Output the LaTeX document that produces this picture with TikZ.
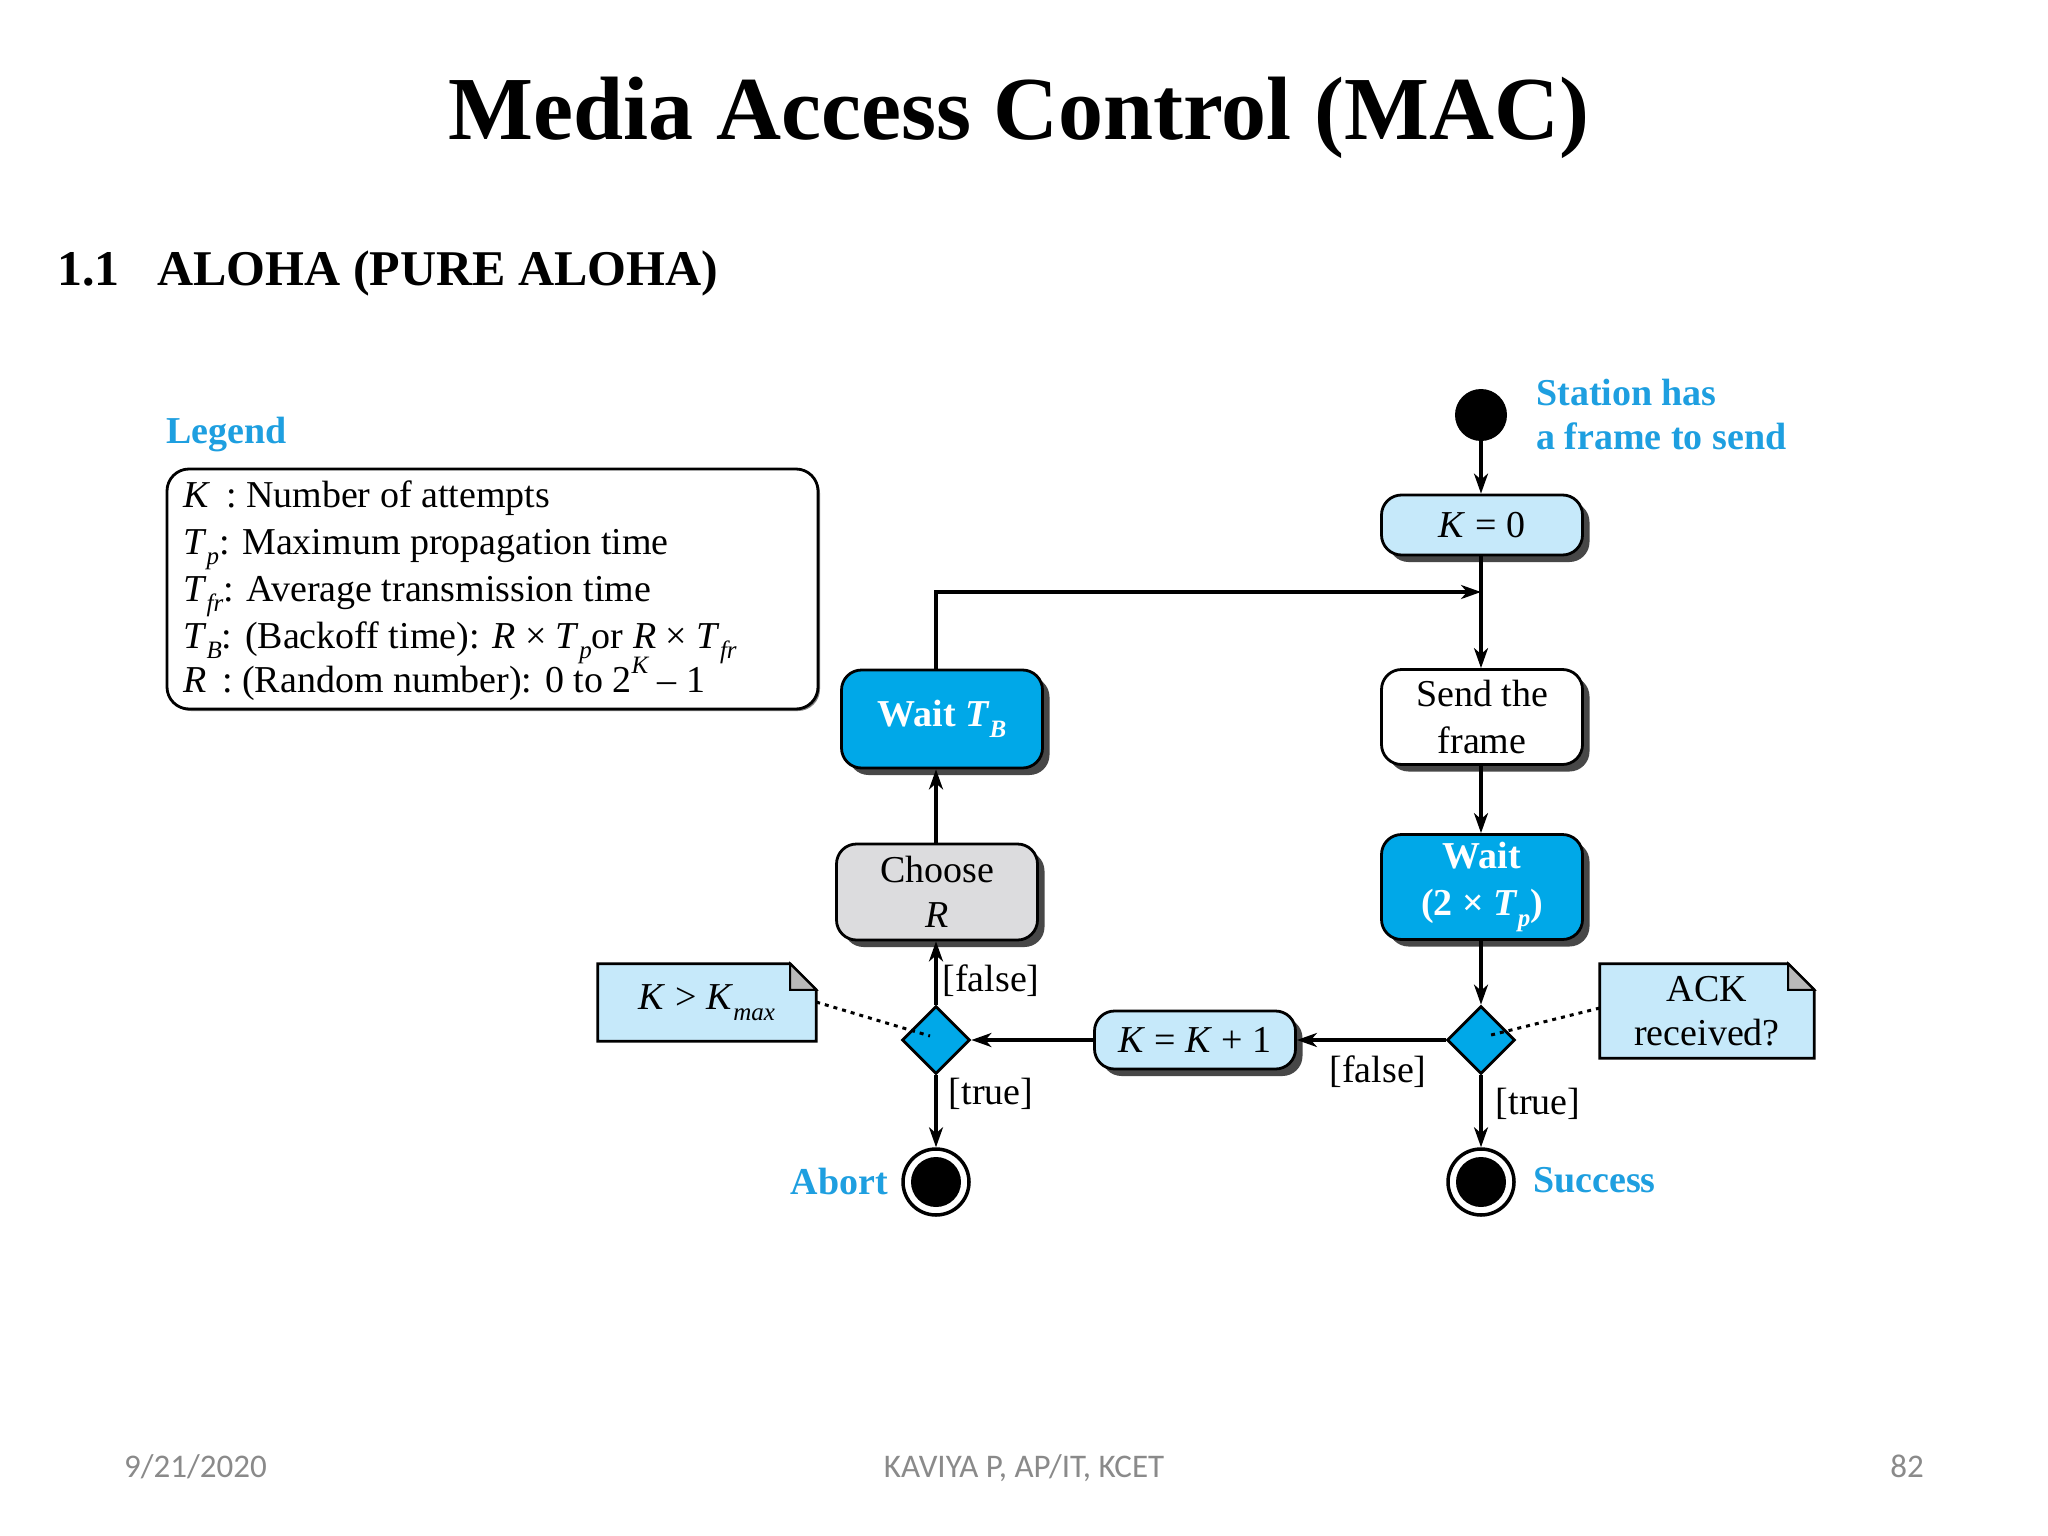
\documentclass[tikz,border=0pt]{standalone}
\usepackage{fontspec}
\setmainfont{Liberation Serif}
\newfontfamily\footfont{Carlito}
\usetikzlibrary{shapes.geometric,shadows,arrows.meta,backgrounds}
\definecolor{cyanbox}{HTML}{00A8E8}
\definecolor{lightbox}{HTML}{C6E9FA}
\definecolor{graybox}{HTML}{DCDCDE}
\definecolor{labelblue}{HTML}{1E9FE0}
\definecolor{footgray}{HTML}{8A8A8A}
\newcommand\dtext{\fontsize{38}{46}\selectfont}
\newcommand\mv[1]{\textit{#1}}
\newcommand\Lsub[1]{\raisebox{-0.28em}{\fontsize{25}{25}\selectfont\itshape #1}}
\newcommand\Lsup[1]{\raisebox{0.5em}{\fontsize{25}{25}\selectfont\itshape #1}}
\tikzset{
  box/.style={rectangle, rounded corners=20pt, draw=black, line width=2.8pt,
    minimum width=201pt, inner sep=0pt, align=center, font=\dtext,
    drop shadow={shadow xshift=7pt, shadow yshift=-7pt, fill=black!72, opacity=1}},
  lbox/.style={box, fill=lightbox},
  cbox/.style={box, fill=cyanbox, text=white, font=\dtext\bfseries},
  gbox/.style={box, fill=graybox},
  wbox/.style={box, fill=white},
  dec/.style={diamond, aspect=1, draw=black, line width=2.8pt, fill=cyanbox,
    minimum width=68pt, minimum height=68pt, inner sep=0pt},
  arr/.style={line width=3.2pt, -{Stealth[length=20pt, width=14pt, inset=6pt]}},
  dotline/.style={line width=3pt, dash pattern=on 4pt off 5pt},
  lbl/.style={font=\dtext, inner sep=0pt},
  bluelbl/.style={font=\dtext\bfseries, text=labelblue, inner sep=0pt},
  legtxt/.style={font=\dtext, inner sep=0pt, anchor=base west},
  notetxt/.style={font=\dtext, inner sep=0pt, align=center},
  foot/.style={font=\footfont\fontsize{33}{36}\selectfont, text=footgray, inner sep=0pt}
}
\begin{document}
\begin{tikzpicture}[x=1pt,y=-1pt]
\useasboundingbox (0,0) rectangle (2048,1536);
\begin{pgfonlayer}{background}
\fill[white] (0,0) rectangle (2048,1536);
\end{pgfonlayer}

% titles
\node[anchor=base, inner sep=0pt, font=\fontsize{90}{100}\selectfont\bfseries] (title) at (1019,140) {Media Access Control (MAC)};
\node[anchor=base west, inner sep=0pt, font=\fontsize{50}{56}\selectfont\bfseries] (secnum) at (57,285) {1.1};
\node[anchor=base west, inner sep=0pt, font=\fontsize{50}{56}\selectfont\bfseries] (sectitle) at (157,285) {ALOHA (PURE ALOHA)};

% legend
\node[bluelbl, anchor=base west] (legendlbl) at (166,443) {Legend};
\node[rectangle, rounded corners=22pt, draw=black, line width=2.8pt, minimum width=651pt, minimum height=240pt, inner sep=0pt,
  drop shadow={shadow xshift=2pt, shadow yshift=-2pt, fill=black!50, opacity=1}, fill=white] (legend) at (492.5,589) {};
\node[legtxt] (l1) at (183,507) {\mv{K} \,: Number of attempts};
\node[legtxt] (l2) at (183,554) {\mv{T}\Lsub{p}: Maximum propagation time};
\node[legtxt] (l3) at (183,601) {\mv{T}\Lsub{fr}: Average transmission time};
\node[legtxt] (l4) at (183,648) {\mv{T}\Lsub{B}: (Backoff time): \mv{R} × \mv{T}\Lsub{p}or \mv{R} × \mv{T}\Lsub{fr}};
\node[legtxt] (l5) at (183,692) {\mv{R} \,: (Random number): 0 to 2\Lsup{K} – 1};

% right column
\node[circle, fill=black, minimum size=52pt, inner sep=0pt] (start) at (1481,415) {};
\node[bluelbl, anchor=base west] (st1) at (1536,405) {Station has};
\node[bluelbl, anchor=base west] (st2) at (1536,449) {a frame to send};
\node[lbox, minimum height=60pt] (k0) at (1482,525) {\mv{K} = 0};
\coordinate (junc) at (1481,592);
\node[wbox, minimum height=95pt, font=\fontsize{38}{47}\selectfont] (send) at (1482,717) {Send the\\frame};
\node[cbox, minimum height=105pt, font=\fontsize{38}{47}\selectfont\bfseries] (wait2) at (1482,887) {Wait\\(2 × \mv{T}\Lsub{p})};
\node[dec] (dr) at (1481,1040) {};
\node[circle, draw=black, line width=3.5pt, minimum size=66pt, inner sep=0pt] (succ) at (1481,1182) {};
\fill[black] (succ.center) circle (25);
\node[bluelbl, anchor=base west] (succlbl) at (1533,1192) {Success};
\node[lbl] (trueR) at (1538,1104) {[true]};
\node[lbl] (falseR) at (1378,1072) {[false]};

% middle
\node[lbox, minimum height=58pt] (kk) at (1195,1040) {\mv{K} = \mv{K} + 1};

% left column
\node[cbox, minimum height=98pt] (waitb) at (942,719) {Wait \mv{T}\Lsub{B}};
\node[gbox, minimum height=96pt, font=\fontsize{38}{45}\selectfont] (choose) at (937,892) {Choose\\\mv{R}};
\node[dec] (dl) at (936,1040) {};
\node[circle, draw=black, line width=3.5pt, minimum size=66pt, inner sep=0pt] (abort) at (936,1182) {};
\fill[black] (abort.center) circle (25);
\node[bluelbl, anchor=base east] (abortlbl) at (888,1194) {Abort};
\node[lbl] (falseL) at (991,981) {[false]};
\node[lbl] (trueL) at (991,1094) {[true]};

% notes
\node[notetxt, minimum width=218pt, minimum height=77pt] (knote) at (707,1002.5) {\mv{K} > \mv{K}\Lsub{max}};
\node[notetxt, minimum width=214pt, minimum height=94pt, font=\fontsize{38}{44}\selectfont] (anote) at (1707,1011) {ACK\\received?};
\begin{pgfonlayer}{background}
\filldraw[fill=lightbox, draw=black, line width=2.8pt, line join=miter]
  (knote.north west) -- ([xshift=-26pt]knote.north east) -- ([yshift=-26pt]knote.north east) -- (knote.south east) -- (knote.south west) -- cycle;
\filldraw[fill=gray!55, draw=black, line width=2pt]
  ([xshift=-26pt]knote.north east) -- ([xshift=-26pt,yshift=-26pt]knote.north east) -- ([yshift=-26pt]knote.north east) -- cycle;
\filldraw[fill=lightbox, draw=black, line width=2.8pt, line join=miter]
  (anote.north west) -- ([xshift=-26pt]anote.north east) -- ([yshift=-26pt]anote.north east) -- (anote.south east) -- (anote.south west) -- cycle;
\filldraw[fill=gray!55, draw=black, line width=2pt]
  ([xshift=-26pt]anote.north east) -- ([xshift=-26pt,yshift=-26pt]anote.north east) -- ([yshift=-26pt]anote.north east) -- cycle;
\end{pgfonlayer}

% connectors
\draw[arr] (start) -- (k0.north -| start);
\draw[arr] (k0.south -| start) -- (send.north -| start);
\draw[arr] (send.south -| start) -- (wait2.north -| start);
\draw[arr] (wait2.south -| start) -- (dr.north);
\draw[arr] (dr.west) -- (kk.east);
\draw[arr] (dr.south) -- (succ.north);
\draw[arr] (kk.west) -- (dl.east);
\draw[arr] (dl.north) -- (choose.south -| dl);
\draw[arr] (dl.south) -- (abort.north);
\draw[arr] (choose.north -| dl) -- (waitb.south -| dl);
\draw[arr] (waitb.north -| dl) |- (junc);
\draw[dotline] (knote.east |- 0,1002) -- ([xshift=-6pt,yshift=4pt]dl.center);
\draw[dotline] (anote.west |- 0,1008) -- ([xshift=6pt,yshift=4pt]dr.center);

% footer
\node[foot, anchor=base west] (fdate) at (124,1477) {9/21/2020};
\node[foot, anchor=base] (fauthor) at (1024,1477) {KAVIYA P, AP/IT, KCET};
\node[foot, anchor=base east] (fpage) at (1924,1477) {82};
\end{tikzpicture}
\end{document}
